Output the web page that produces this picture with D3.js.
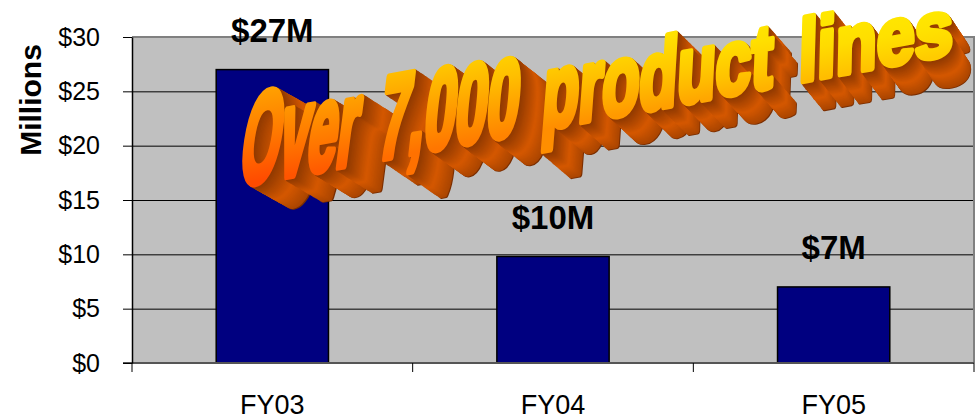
<!DOCTYPE html>
<html>
<head>
<meta charset="utf-8">
<script src="https://cdn.jsdelivr.net/npm/d3@7"></script>
<style>
  html, body { margin: 0; padding: 0; background: #ffffff; }
  svg { display: block; }
</style>
</head>
<body>
<script>
// ---------------- data ----------------
const categories   = ["FY03", "FY04", "FY05"];
const values       = [27, 9.8, 7.0];
const valueLabels  = ["$27M", "$10M", "$7M"];
const yTickValues  = [0, 5, 10, 15, 20, 25, 30];
const yTickLabels  = ["$0", "$5", "$10", "$15", "$20", "$25", "$30"];
const yAxisTitle   = "Millions";
const bannerText   = "Over 7,000 product lines";

// ---------------- layout ----------------
const W = 978, H = 420;
const plot = { left: 132, right: 974, top: 37, bottom: 363 };
const FONT = "'Liberation Sans', Arial, Helvetica, sans-serif";

const svg = d3.select("body").append("svg")
  .attr("width", W).attr("height", H)
  .attr("font-family", FONT);
const defs = svg.append("defs");

const x = d3.scaleBand()
  .domain(categories)
  .range([plot.left, plot.right])
  .paddingInner(0.6)
  .paddingOuter(0.3);

const y = d3.scaleLinear()
  .domain([yTickValues[0], yTickValues[yTickValues.length - 1]])
  .range([plot.bottom, plot.top]);

// plot background
svg.append("rect")
  .attr("x", plot.left).attr("y", plot.top)
  .attr("width", plot.right - plot.left)
  .attr("height", plot.bottom - plot.top)
  .attr("fill", "#C0C0C0");

// gridlines
const grid = svg.append("g")
  .attr("transform", `translate(${plot.left},0)`)
  .call(d3.axisLeft(y)
    .tickValues(yTickValues.slice(1, -1))
    .tickSize(-(plot.right - plot.left))
    .tickFormat(""));
grid.select(".domain").remove();
grid.selectAll("line").attr("stroke", "#000").attr("stroke-width", 1);

// plot border top/right
svg.append("path")
  .attr("d", `M${plot.left},${plot.top}H${plot.right}V${plot.bottom}`)
  .attr("fill", "none").attr("stroke", "#808080").attr("stroke-width", 2);

// bars
svg.append("g").selectAll("rect")
  .data(categories)
  .join("rect")
  .attr("x", d => x(d))
  .attr("y", (d, i) => y(values[i]))
  .attr("width", x.bandwidth())
  .attr("height", (d, i) => y(0) - y(values[i]))
  .attr("fill", "#000080")
  .attr("stroke", "#000")
  .attr("stroke-width", 1.5);

// category axis (line + boundary ticks + labels)
svg.append("line")
  .attr("x1", plot.left - 9).attr("x2", plot.right)
  .attr("y1", plot.bottom).attr("y2", plot.bottom)
  .attr("stroke", "#555").attr("stroke-width", 2);

const step = x.step();
const bounds = categories.map(c => x(c) - step * x.paddingInner() / 2).concat([plot.right]);
svg.append("g").selectAll("line")
  .data(bounds)
  .join("line")
  .attr("x1", d => d).attr("x2", d => d)
  .attr("y1", plot.bottom).attr("y2", plot.bottom + 9)
  .attr("stroke", "#000").attr("stroke-width", 1);

svg.append("g").selectAll("text")
  .data(categories)
  .join("text")
  .attr("x", d => x(d) + x.bandwidth() / 2)
  .attr("y", 414)
  .attr("text-anchor", "middle")
  .attr("font-size", 27)
  .attr("fill", "#000")
  .text(d => d);

// y axis
const yAxis = svg.append("g")
  .attr("transform", `translate(${plot.left},0)`)
  .call(d3.axisLeft(y)
    .tickValues(yTickValues)
    .tickSize(9)
    .tickSizeOuter(0)
    .tickPadding(23)
    .tickFormat((d, i) => yTickLabels[i]));
yAxis.select(".domain").attr("stroke", "#000").attr("stroke-width", 1.5);
yAxis.selectAll(".tick line").attr("stroke", "#000");
yAxis.selectAll(".tick text")
  .attr("font-size", 25).attr("font-family", FONT).attr("fill", "#000");

// y axis title
svg.append("text")
  .attr("transform", "translate(41,100) rotate(-90)")
  .attr("text-anchor", "middle")
  .attr("font-size", 30)
  .attr("font-weight", "bold")
  .attr("fill", "#000")
  .text(yAxisTitle);

// value labels
svg.append("g").selectAll("text")
  .data(categories)
  .join("text")
  .attr("x", d => x(d) + x.bandwidth() / 2)
  .attr("y", (d, i) => y(values[i]) - 28)
  .attr("text-anchor", "middle")
  .attr("font-size", 33)
  .attr("font-weight", "bold")
  .attr("fill", "#000")
  .text((d, i) => valueLabels[i]);

// ---------------- WordArt banner ----------------
const wa = svg.append("g").attr("font-family", FONT).attr("font-weight", "bold").attr("font-size", 100);
const meas = wa.append("text");
const chars = bannerText.split("");
const adv = chars.map(ch => {
  if (ch === " ") return 40;
  meas.text(ch);
  return meas.node().getComputedTextLength();
});
meas.remove();

let cum = 0;
const centers = adv.map(a => { const c = cum + a / 2; cum += a; return c; });
const total = cum;

const theta = -10.4 * Math.PI / 180;
const x0 = 237, y0 = 185;
let along = 0;
const glyphs = [];
chars.forEach((ch, i) => {
  const u = centers[i] / total;
  const sx = (50.5 + 20.5 * u) / 100;
  const sy = (95 - 39 * u) / 71.6;
  const mu = 9 * (1 - u) * Math.PI / 180;
  const tx = x0 + along * Math.cos(theta);
  const ty = y0 + along * Math.sin(theta);
  along += adv[i] * sx;
  if (ch !== " ") {
    glyphs.push({
      ch, u, i,
      m: [sx * Math.cos(theta), sx * Math.sin(theta), -sy * Math.sin(mu), sy * Math.cos(mu), tx, ty],
      ex: 40 - 22 * u, ey: 22 + 6 * u
    });
  }
});

const faceColor = d3.scaleLinear()
  .domain([-1, -0.6, -0.3, 0, 0.3, 0.6])
  .range(["#FFEC00", "#FFE000", "#FFC400", "#FF9C00", "#FF7400", "#FF4600"])
  .clamp(true);

const extrColor = d3.scaleLinear()
  .domain([0, 0.2, 0.55, 1])
  .range(["#8E3800", "#A84400", "#D45800", "#A84400"]);

glyphs.forEach(g => {
  const grad = defs.append("linearGradient")
    .attr("id", "wg" + g.i)
    .attr("gradientUnits", "userSpaceOnUse")
    .attr("x1", 0).attr("y1", -72).attr("x2", 0).attr("y2", 0);
  d3.range(0, 1.0001, 0.25).forEach(o => {
    grad.append("stop").attr("offset", o).attr("stop-color", faceColor(-g.u + 0.6 * o));
  });
});

const SW = 7;
const N = 32;
const extr = wa.append("g");
for (let k = N; k >= 1; k--) {
  const t = k / N;
  extr.append("g")
    .selectAll("text")
    .data(glyphs)
    .join("text")
    .attr("transform", d => `translate(${d.ex * t},${d.ey * t}) matrix(${d.m.join(",")})`)
    .attr("fill", extrColor(t))
    .attr("stroke", k === N ? "#7A2E00" : extrColor(t))
    .attr("stroke-width", SW)
    .attr("stroke-linejoin", "round")
    .text(d => d.ch);
}

wa.append("g")
  .selectAll("text")
  .data(glyphs)
  .join("text")
  .attr("transform", d => `matrix(${d.m.join(",")})`)
  .attr("fill", d => `url(#wg${d.i})`)
  .attr("stroke", d => `url(#wg${d.i})`)
  .attr("stroke-width", SW)
  .attr("stroke-linejoin", "round")
  .text(d => d.ch);
</script>
</body>
</html>
